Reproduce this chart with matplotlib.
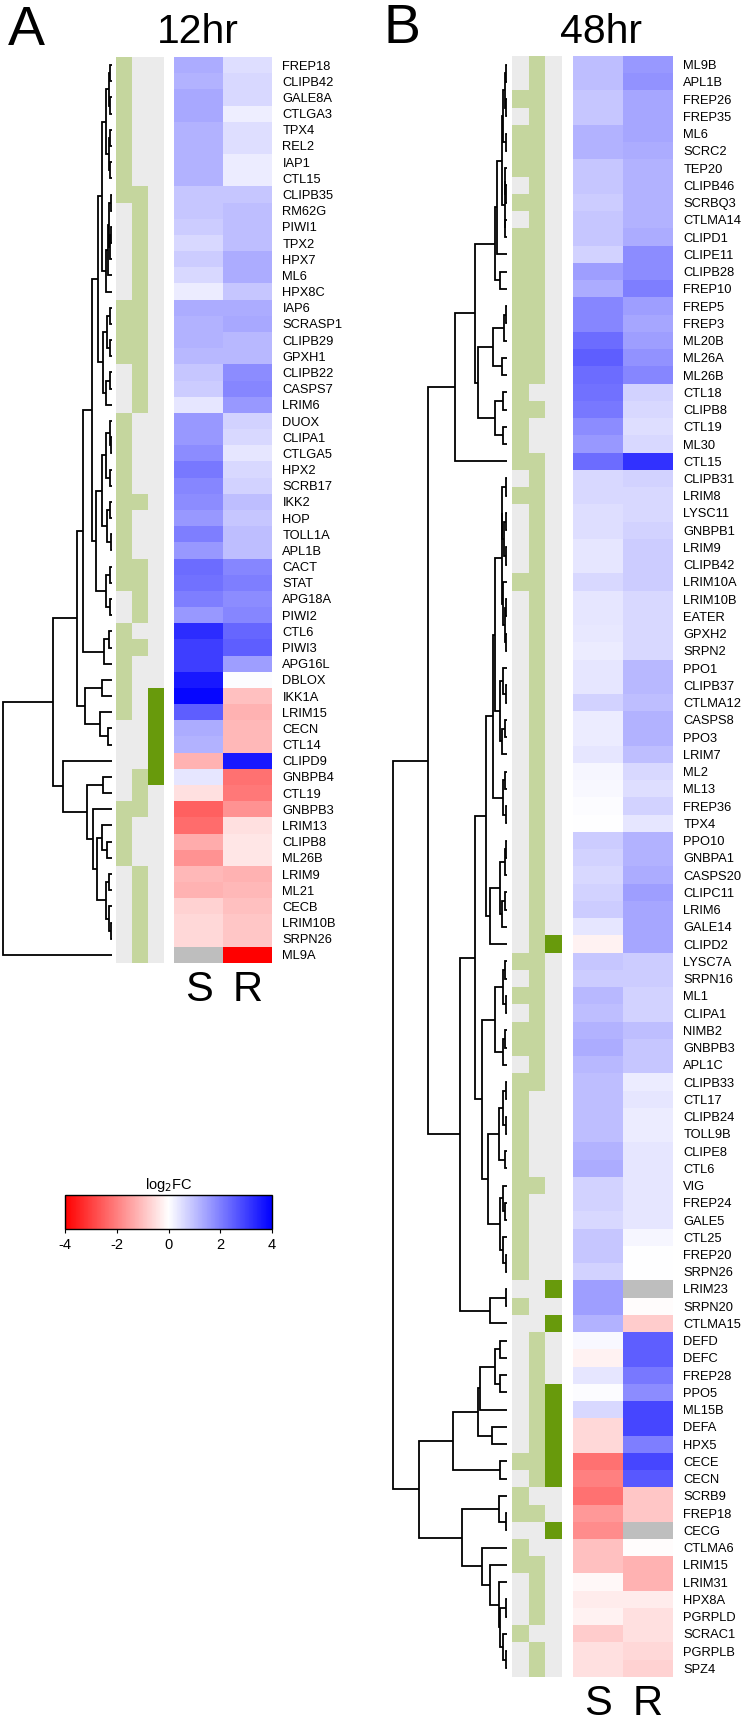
import matplotlib
matplotlib.use('Agg')
import matplotlib.pyplot as plt
import numpy as np
from matplotlib.colors import LinearSegmentedColormap, Normalize, to_rgb
from matplotlib.cm import ScalarMappable

plt.rcParams['font.family'] = ['Liberation Sans', 'DejaVu Sans']
plt.rcParams['axes.unicode_minus'] = False

# ---------------- 12 hr data ----------------
genes_12 = ["FREP18", "CLIPB42", "GALE8A", "CTLGA3", "TPX4", "REL2", "IAP1", "CTL15",
            "CLIPB35", "RM62G", "PIWI1", "TPX2", "HPX7", "ML6", "HPX8C", "IAP6", "SCRASP1",
            "CLIPB29", "GPXH1", "CLIPB22", "CASPS7", "LRIM6", "DUOX", "CLIPA1", "CTLGA5",
            "HPX2", "SCRB17", "IKK2", "HOP", "TOLL1A", "APL1B", "CACT", "STAT", "APG18A",
            "PIWI2", "CTL6", "PIWI3", "APG16L", "DBLOX", "IKK1A", "LRIM15", "CECN", "CTL14",
            "CLIPD9", "GNBPB4", "CTL19", "GNBPB3", "LRIM13", "CLIPB8", "ML26B", "LRIM9",
            "ML21", "CECB", "LRIM10B", "SRPN26", "ML9A"]
s_12 = [1.3, 1.2, 1.35, 1.35, 1.2, 1.2, 1.2, 1.2, 0.9, 0.9, 0.8, 0.6, 0.8, 0.6, 0.3,
        1.3, 1.2, 1.2, 1.1, 0.9, 0.8, 0.4, 1.6, 1.6, 1.8, 2.1, 1.9, 1.8, 1.6, 2.0, 1.6,
        2.3, 2.2, 2.0, 1.6, 3.3, 3.0, 3.0, 3.6, 3.9, 2.5, 1.3, 1.2, -1.2, 0.4, -0.5,
        -2.5, -2.3, -1.3, -1.7, -1.1, -1.2, -0.7, -0.6, -0.6, np.nan]
r_12 = [0.5, 0.6, 0.6, 0.25, 0.5, 0.5, 0.3, 0.3, 0.9, 1.0, 1.0, 1.0, 1.3, 1.3, 0.9,
        1.3, 1.35, 1.1, 1.1, 1.8, 1.9, 1.6, 0.7, 0.6, 0.4, 0.6, 0.7, 1.0, 0.9, 1.0, 1.0,
        1.9, 2.0, 1.8, 1.9, 2.4, 2.5, 1.5, 0.05, -1.0, -1.2, -1.1, -1.1, 3.6, -2.2, -2.1,
        -1.7, -0.5, -0.4, -0.4, -1.2, -1.1, -1.0, -0.9, -0.9, -4.0]
ann1_12 = [1]*9 + [0]*6 + [1]*4 + [0]*3 + [1]*11 + [0]*2 + [1]*6 + [0]*5 + [1]*4 + [0]*6
ann2_12 = [0]*8 + [1]*14 + [0]*5 + [1] + [0]*3 + [1]*4 + [0] + [1] + [0]*7 + [1]*3 + [0]*3 + [1]*6
ann3_12 = [0]*39 + [1]*6 + [0]*11
# dendrogram: [height, left, right], leaves = row index
tree_12 = [109,
  [59,
    [35,
      [29,
        [20,
          [14,
            [10, [6, [2.5, [1.5, 0, 1], [1.5, 2, 3]], [3, [1.5, 4, 5], [1.5, 6, 7]]],
                 [6, [4, [3, [1, 8, 9], [2, [1, 10, 11], 12]], 13], 14]],
            [9, [5, [1.5, 15, 16], [1.5, 17, 18]], [6, [2, 19, 20], 21]]],
          [16,
            [10, [6, [2, 22, [1, 23, 24]], [1.5, 25, 26]], [5, [2, 27, 28], [1, 29, 30]]],
            [6, [2, 31, 32], [2, 33, 34]]]],
        [8, [3, 35, 36], 37]],
      [27, [10, 38, 39], [12, 40, [4, 41, 42]]]],
    [49, 43,
      [25, [9, 44, 45],
        [19, 46,
          [15, [10, 47, [5, 48, 49]], [6, [3, 50, 51], [3, 52, [1, 53, 54]]]]]]]],
  55]

# ---------------- 48 hr data ----------------
genes_48 = ["ML9B", "APL1B", "FREP26", "FREP35", "ML6", "SCRC2", "TEP20", "CLIPB46",
            "SCRBQ3", "CTLMA14", "CLIPD1", "CLIPE11", "CLIPB28", "FREP10", "FREP5", "FREP3",
            "ML20B", "ML26A", "ML26B", "CTL18", "CLIPB8", "CTL19", "ML30", "CTL15", "CLIPB31",
            "LRIM8", "LYSC11", "GNBPB1", "LRIM9", "CLIPB42", "LRIM10A", "LRIM10B", "EATER",
            "GPXH2", "SRPN2", "PPO1", "CLIPB37", "CTLMA12", "CASPS8", "PPO3", "LRIM7", "ML2",
            "ML13", "FREP36", "TPX4", "PPO10", "GNBPA1", "CASPS20", "CLIPC11", "LRIM6",
            "GALE14", "CLIPD2", "LYSC7A", "SRPN16", "ML1", "CLIPA1", "NIMB2", "GNBPB3",
            "APL1C", "CLIPB33", "CTL17", "CLIPB24", "TOLL9B", "CLIPE8", "CTL6", "VIG",
            "FREP24", "GALE5", "CTL25", "FREP20", "SRPN26", "LRIM23", "SRPN20", "CTLMA15",
            "DEFD", "DEFC", "FREP28", "PPO5", "ML15B", "DEFA", "HPX5", "CECE", "CECN",
            "SCRB9", "FREP18", "CECG", "CTLMA6", "LRIM15", "LRIM31", "HPX8A", "PGRPLD",
            "SCRAC1", "PGRPLB", "SPZ4"]
s_48 = [1.0, 1.0, 0.9, 0.9, 1.2, 1.2, 0.9, 0.9, 0.8, 0.9, 0.9, 0.7, 1.5, 1.3, 1.9, 1.9,
        2.3, 2.5, 2.3, 2.2, 2.1, 1.8, 1.6, 2.3, 0.6, 0.6, 0.5, 0.5, 0.4, 0.4, 0.6, 0.4,
        0.4, 0.35, 0.3, 0.4, 0.4, 0.7, 0.3, 0.3, 0.4, 0.15, 0.1, 0.05, 0.0, 0.8, 0.7, 0.6,
        0.7, 0.8, 0.4, -0.2, 0.9, 0.8, 1.1, 1.0, 1.2, 1.3, 1.1, 1.0, 1.0, 1.0, 1.0, 1.2,
        1.3, 0.7, 0.7, 0.6, 0.9, 0.9, 0.7, 1.5, 1.5, 1.2, 0.1, -0.2, 0.4, 0.05, 0.6, -0.6,
        -0.6, -2.2, -2.0, -2.2, -1.6, -1.8, -1.0, -1.0, -0.1, -0.3, -0.2, -0.8, -0.5, -0.5]
r_48 = [1.6, 1.7, 1.4, 1.4, 1.4, 1.3, 1.2, 1.2, 1.2, 1.2, 1.3, 1.8, 1.8, 2.0, 1.5, 1.4,
        1.5, 1.7, 1.9, 0.7, 0.6, 0.5, 0.6, 3.2, 0.7, 0.6, 0.6, 0.7, 0.8, 0.8, 0.8, 0.6,
        0.6, 0.6, 0.6, 1.1, 1.1, 1.0, 1.2, 1.2, 1.0, 0.6, 0.5, 0.7, 0.4, 1.2, 1.2, 1.3,
        1.5, 1.4, 1.4, 1.4, 0.8, 0.8, 0.7, 0.7, 1.0, 0.9, 0.9, 0.3, 0.4, 0.3, 0.3, 0.4,
        0.4, 0.4, 0.4, 0.4, 0.15, 0.0, 0.0, np.nan, -0.05, -0.8, 2.5, 2.5, 2.1, 1.8, 2.9,
        2.9, 2.0, 2.9, 2.6, -0.9, -0.9, np.nan, -0.05, -1.2, -1.2, -0.3, -0.5, -0.5, -0.6, -0.7]
ann1_48 = ([0]*2 + [1] + [0] + [1]*3 + [0] + [1] + [0] + [1]*14 + [0] + [1] + [0]*4 + [1]
           + [0]*21 + [1] + [0] + [1] + [0] + [1]*2 + [0] + [1]*12 + [0] + [1] + [0]*8
           + [1] + [0] + [1]*2 + [0] + [1]*2 + [0]*3 + [1] + [0]*2)
ann2_48 = ([1]*19 + [0] + [1] + [0]*2 + [1]*37 + [0]*5 + [1] + [0]*8 + [1]*9 + [0] + [1]
           + [0]*2 + [1]*4 + [0] + [1]*2)
ann3_48 = [1 if i in (51, 71, 73, 77, 78, 79, 80, 81, 82, 85) else 0 for i in range(94)]

G0_5 = [4, [2.5, [1.5, 0, 1], [1.5, 2, 3]], [1.5, 4, 5]]
G6_10 = [2.5, [2, 6, [1.5, 7, 8]], [2, 9, 10]]
G0_13 = [12, [10, [5.5, G0_5, G6_10], 11], [7, 12, 13]]
G14_22 = [28.7, [13.7, [3.5, [1.5, 14, 15], 16], [5.5, 17, 18]],
          [12, [4, 19, 20], [4, 21, 22]]]
G24_34 = [5.5, [5, [1.5, 24, 25], [3, [1.5, 26, 27], [1.5, 28, 29]]],
          [4, 30, [2.5, [1.5, 31, 32], [1.5, 33, 34]]]]
G35_40 = [7, [4, 35, [1.5, 36, 37]], [5.5, [2, 38, 39], 40]]
G24_44 = [13.7, [12, G24_34, G35_40], [4, [2.5, 41, 42], [1.5, 43, 44]]]
G45_51 = [17, [7, [2.5, [1.5, 45, 46], 47], [5.5, [2, 48, 49], 50]], 51]
G52_58 = [12, [4, [2.5, 52, 53], [1.5, 54, 55]], [4, [2.5, 56, 57], 58]]
G59_70 = [19, [8.5, [4, [1.5, 59, 60], [1.5, 61, 62]], [2.5, 63, 64]],
          [7, [4, 65, [2, 66, 67]], [4, 68, [1.5, 69, 70]]]]
G71_73 = [17, [1.5, 71, 72], 73]
G74_82 = [54, [28.7, [27, [12, [7, 74, 75], [7, 76, 77]], 78], [15, 79, 80]], [7, 81, 82]]
G83_93 = [45, [8.5, 83, [1.5, 84, 85]],
          [25, 86, [17, 87, [8.5, 88, [7, [1.5, 89, 90], [4, 91, [1, 92, 93]]]]]]]
tree_48 = [114,
           [79, [52, [32, G0_13, G14_22], 23],
                [47, [32, [21, G24_44, G45_51], [25, G52_58, G59_70]], G71_73]],
           [88, G74_82, G83_93]]

# ---------------- drawing ----------------
W, H = 755, 1721
fig = plt.figure(figsize=(W / 100, H / 100), dpi=100)

def px_axes(x0, y0, x1, y1):
    return fig.add_axes([x0 / W, 1 - y1 / H, (x1 - x0) / W, (y1 - y0) / H])

cmap = LinearSegmentedColormap.from_list('rwb', ['#FF0000', '#FFFFFF', '#0000FF'])
cmap.set_bad('#BEBEBE')
GREY, LGREEN, DGREEN = '#EBEBEB', '#C5D69E', '#689A0C'

def draw_tree(ax, node):
    if isinstance(node, int):
        return node + 0.5, 0.0
    h, a, b = node
    ya, ha = draw_tree(ax, a)
    yb, hb = draw_tree(ax, b)
    ax.plot([ha, h, h, hb], [ya, ya, yb, yb], color='black', lw=1.3,
            solid_joinstyle='miter', solid_capstyle='butt', clip_on=False)
    return (ya + yb) / 2, h

def panel(genes, s, r, a1, a2, a3, tree, xd, xa, xh, y0, y1):
    n = len(genes)
    axd = px_axes(xd[0], y0, xd[1], y1)
    draw_tree(axd, tree)
    axd.set_xlim(tree[0], 0)
    axd.set_ylim(n, 0)
    axd.axis('off')

    axa = px_axes(xa[0], y0, xa[1], y1)
    rgb = np.zeros((n, 3, 3))
    for i in range(n):
        rgb[i, 0] = to_rgb(LGREEN if a1[i] else GREY)
        rgb[i, 1] = to_rgb(LGREEN if a2[i] else GREY)
        rgb[i, 2] = to_rgb(DGREEN if a3[i] else GREY)
    axa.imshow(rgb, aspect='auto', extent=(0, 3, n, 0), interpolation='nearest')
    axa.axis('off')

    axh = px_axes(xh[0], y0, xh[1], y1)
    data = np.ma.masked_invalid(np.column_stack([s, r]))
    axh.imshow(data, cmap=cmap, vmin=-4, vmax=4, aspect='auto',
               extent=(0, 2, n, 0), interpolation='nearest')
    for sp in axh.spines.values():
        sp.set_visible(False)
    axh.yaxis.tick_right()
    axh.set_yticks(np.arange(n) + 0.5)
    axh.set_yticklabels(genes)
    axh.tick_params(axis='y', length=0, pad=7.5, labelsize=9.3)
    axh.set_xticks([0.5, 1.5])
    axh.set_xticklabels(['S', 'R'])
    axh.tick_params(axis='x', length=0, pad=5, labelsize=30)
    return axh

panel(genes_12, s_12, r_12, ann1_12, ann2_12, ann3_12, tree_12,
      (3, 112), (116, 164), (174, 272), 57, 963)
panel(genes_48, s_48, r_48, ann1_48, ann2_48, ann3_48, tree_48,
      (393, 507), (512, 562), (573, 673), 56, 1677)

fig.text(198, H - 43, '12hr', transform=None, fontsize=29.5, ha='center', va='baseline')
fig.text(601, H - 43, '48hr', transform=None, fontsize=29.5, ha='center', va='baseline')
fig.text(8, H - 45, 'A', transform=None, fontsize=40, ha='left', va='baseline')
fig.text(383, H - 43, 'B', transform=None, fontsize=40, ha='left', va='baseline')

# colour key
cax = px_axes(65, 1195, 272, 1229)
cb = fig.colorbar(ScalarMappable(norm=Normalize(-4, 4), cmap=cmap), cax=cax,
                  orientation='horizontal', ticks=[-4, -2, 0, 2, 4])
cb.ax.set_xticklabels(['-4', '-2', '0', '2', '4'])
cb.ax.tick_params(labelsize=10.5, length=3, width=0.8)
cb.outline.set_linewidth(1.0)
cb.ax.set_title('log$_2$FC', fontsize=10.5, pad=4)

fig.savefig('out.png', dpi=100)
